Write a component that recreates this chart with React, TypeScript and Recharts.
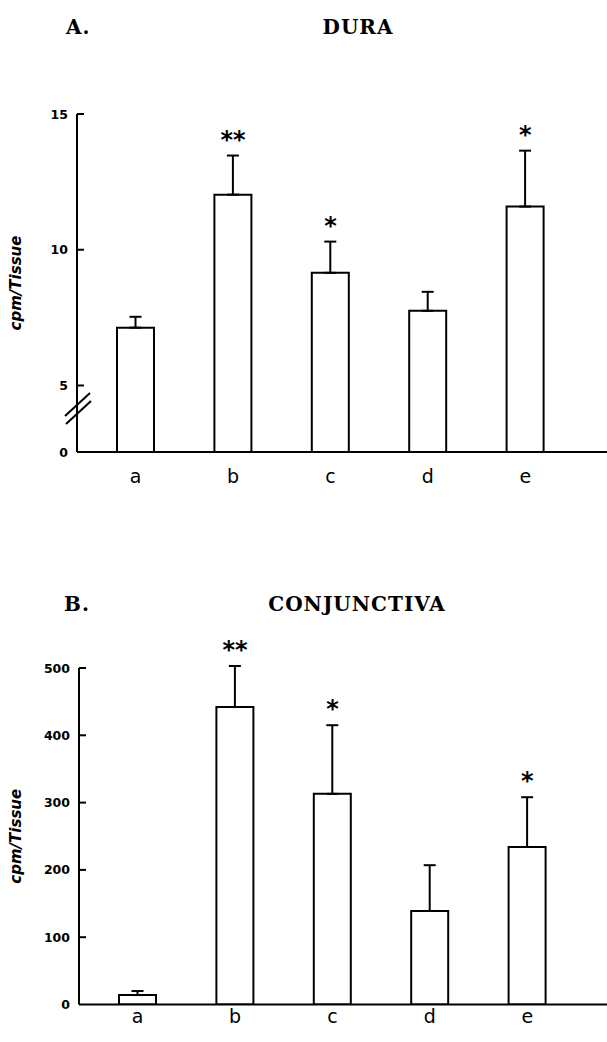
import React from 'react';
import { ComposedChart, Bar, XAxis, YAxis, ErrorBar, Line, LabelList } from 'recharts';

const categories = ['a', 'b', 'c', 'd', 'e'];

// Panel A – DURA (axis broken between 0 and 5; origin value stands for "0")
const duraOrigin = 2.55;
const duraMean = [7.13, 12.03, 9.15, 7.75, 11.59];
const duraErr = [0.4, 1.44, 1.15, 0.7, 2.06];
const duraSig = ['', '**', '*', '', '*'];
const duraTicks = [duraOrigin, 5, 10, 15];

// Panel B – CONJUNCTIVA
const conjMean = [14, 442, 313, 139, 234];
const conjErr = [6, 61, 102, 68, 74];
const conjSig = ['', '**', '*', '', '*'];
const conjTicks = [0, 100, 200, 300, 400, 500];

const build = (mean: number[], err: number[], sig: string[]) =>
  categories.map((c, i) => ({
    cat: c,
    mean: mean[i],
    err: [0, err[i]],
    top: mean[i] + err[i],
    sig: sig[i],
  }));

const duraData = build(duraMean, duraErr, duraSig);
const conjData = build(conjMean, conjErr, conjSig);

const makeYTick = (origin: number, withBreak: boolean) => (props: any) => {
  const { x, y, payload } = props;
  const v = payload.value;
  const isOrigin = v === origin;
  const label = isOrigin ? '0' : String(v);
  return (
    <g>
      {!isOrigin && <line x1={x} x2={x + 7} y1={y} y2={y} stroke="#000" strokeWidth={2} />}
      <text
        x={x - 9}
        y={y}
        dy="0.36em"
        textAnchor="end"
        fontFamily="DejaVu Sans"
        fontWeight="bold"
        fontSize={12.5}
        fill="#000"
      >
        {label}
      </text>
      {isOrigin && withBreak && (
        <g stroke="#000" strokeWidth={2}>
          <line x1={x - 12} y1={y - 36} x2={x + 13} y2={y - 59} />
          <line x1={x - 11} y1={y - 28} x2={x + 14} y2={y - 51} />
        </g>
      )}
    </g>
  );
};

const titleStyle: React.CSSProperties = {
  position: 'absolute',
  fontFamily: 'DejaVu Serif',
  fontWeight: 'bold',
  fontSize: 20,
  lineHeight: '20px',
  letterSpacing: 1,
  whiteSpace: 'nowrap',
  color: '#000',
};

const yLabel = {
  value: 'cpm/Tissue',
  angle: -90,
  position: 'insideLeft' as const,
  offset: 16,
  style: {
    textAnchor: 'middle',
    fontFamily: 'DejaVu Sans',
    fontWeight: 'bold',
    fontStyle: 'italic',
    fontSize: 15,
    fill: '#000',
  },
};

const sigStyle = { fontFamily: 'DejaVu Sans', fontWeight: 'bold', fontSize: 24, fill: '#000' };

const Panel = ({
  data,
  domain,
  ticks,
  origin,
  withBreak,
  height,
  top,
  xHeight,
  yWidth,
  tickMargin,
  padRight,
}: any) => (
  <ComposedChart
    width={607}
    height={height}
    data={data}
    margin={{ top, right: 0, bottom: 0, left: 0 }}
  >
    <XAxis
      dataKey="cat"
      height={xHeight}
      padding={{ left: 10, right: padRight }}
      axisLine={{ stroke: '#000', strokeWidth: 2 }}
      tickLine={false}
      tickSize={0}
      tickMargin={tickMargin}
      tick={{ fontFamily: 'DejaVu Sans', fontSize: 19, fill: '#000' }}
    />
    <YAxis
      type="number"
      domain={domain}
      ticks={ticks}
      allowDataOverflow
      width={yWidth}
      axisLine={{ stroke: '#000', strokeWidth: 2 }}
      tickLine={false}
      tickSize={0}
      tickMargin={0}
      tick={makeYTick(origin, withBreak)}
      label={yLabel}
    />
    <Bar
      dataKey="mean"
      fill="#fff"
      stroke="#000"
      strokeWidth={2}
      barSize={37}
      isAnimationActive={false}
    >
      <ErrorBar dataKey="err" direction="y" width={6} stroke="#000" strokeWidth={2} />
    </Bar>
    <Line
      dataKey="top"
      stroke="none"
      dot={false}
      activeDot={false}
      legendType="none"
      isAnimationActive={false}
    >
      <LabelList dataKey="sig" position="top" offset={8} style={sigStyle} />
    </Line>
  </ComposedChart>
);

export default function App() {
  return (
    <div style={{ position: 'absolute', left: 0, top: 0, width: 607, height: 1042, background: '#fff' }}>
      <div style={{ ...titleStyle, left: 66, top: 17 }}>A.</div>
      <div style={{ ...titleStyle, left: 358, top: 17, transform: 'translateX(-50%)' }}>DURA</div>
      <div style={{ ...titleStyle, left: 64, top: 594 }}>B.</div>
      <div style={{ ...titleStyle, left: 357, top: 594, transform: 'translateX(-50%)' }}>CONJUNCTIVA</div>

      <div style={{ position: 'absolute', left: 0, top: 0 }}>
        <Panel
          data={duraData}
          domain={[duraOrigin, 15]}
          ticks={duraTicks}
          origin={duraOrigin}
          withBreak
          height={500}
          top={114}
          xHeight={48}
          yWidth={77}
          tickMargin={18}
          padRight={33}
        />
      </div>
      <div style={{ position: 'absolute', left: 0, top: 560 }}>
        <Panel
          data={conjData}
          domain={[0, 500]}
          ticks={conjTicks}
          origin={0}
          withBreak={false}
          height={482}
          top={108}
          xHeight={37.5}
          yWidth={79}
          tickMargin={5}
          padRight={31}
        />
      </div>
    </div>
  );
}
